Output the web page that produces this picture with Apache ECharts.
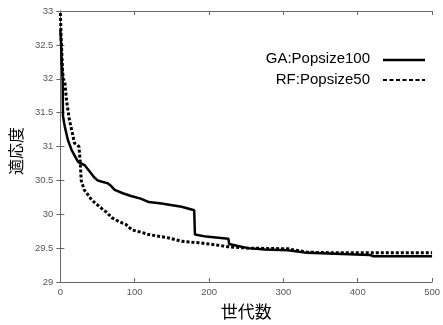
<!DOCTYPE html>
<html><head><meta charset="utf-8">
<script src="https://cdn.jsdelivr.net/npm/echarts@6/dist/echarts.min.js"></script>
<style>html,body{margin:0;padding:0;background:#fff}#c{width:443px;height:325px}</style>
</head><body><div id="c"></div>
<script>
const gaName = 'GA:Popsize100';
const rfName = 'RF:Popsize50';
const gaX = [0,1,2,3,3.5,5,6,10,15,19,24,28,33,41,45,50,56,63,68,73,84,95,108,119,136,163,180,181,196,226,227,239,252,275,306,332,416,421,500];
const gaY = [32.72,32.5,32.2,32.0,31.45,31.35,31.29,31.1,30.95,30.87,30.77,30.75,30.72,30.61,30.55,30.5,30.48,30.46,30.42,30.36,30.31,30.27,30.23,30.18,30.16,30.11,30.06,29.70,29.67,29.64,29.56,29.53,29.50,29.48,29.47,29.43,29.40,29.38,29.38];
const rfX = [0,1,3,4,6,8,12,19,25,26,26.5,28,32,37,42,55,62,69,79,88,96,110,119,146,163,186,208,226,252,306,332,372,500];
const rfY = [32.97,32.6,32.1,32.0,31.95,31.7,31.4,31.05,31.0,30.98,30.8,30.5,30.36,30.29,30.21,30.09,30.03,29.95,29.89,29.85,29.77,29.73,29.70,29.65,29.60,29.58,29.55,29.52,29.50,29.49,29.44,29.43,29.43];
const xTicks = [0,100,200,300,400,500];
const xTitle = '世代数';
const yTitle = '適応度';

const pair = (xs, ys) => xs.map((x, i) => [x, ys[i]]);
const axisCol = '#666';
const lblStyle = {color:'#555', fontSize:9.5, fontFamily:'Liberation Sans, Arial, sans-serif'};
const legFont = 'Liberation Sans, Arial, sans-serif';
const chart = echarts.init(document.getElementById('c'), null, {renderer:'canvas'});
chart.setOption({
  animation:false,
  grid:{left:60, right:7, top:11, bottom:43, show:false},
  graphic:[
    {type:'text', right:73, top:51, style:{text:gaName, font:'15px ' + legFont, fill:'#000', textAlign:'right'}},
    {type:'text', right:73, top:72, style:{text:rfName, font:'15px ' + legFont, fill:'#000', textAlign:'right'}},
    {type:'line', shape:{x1:383, y1:60, x2:425, y2:60}, style:{stroke:'#000', lineWidth:2.5}},
    {type:'line', shape:{x1:383, y1:80, x2:425, y2:80}, style:{stroke:'#000', lineWidth:2, lineDash:[4,2.5]}}
  ],
  xAxis:[{
    type:'value', min:0, max:500, interval:100, position:'bottom',
    name:xTitle, nameLocation:'middle', nameGap:21,
    nameTextStyle:{fontSize:17, color:'#000', fontFamily:'Noto Sans CJK JP'},
    axisLine:{show:true, lineStyle:{color:axisCol, width:1}},
    axisTick:{show:true, inside:true, length:4, lineStyle:{color:axisCol}},
    axisLabel:Object.assign({margin:5, formatter:v=>xTicks.includes(v)?String(v):''}, lblStyle),
    splitLine:{show:false}
  },{
    type:'value', min:0, max:500, interval:100, position:'top',
    axisLine:{show:true, lineStyle:{color:axisCol, width:1}},
    axisTick:{show:true, inside:true, length:4, lineStyle:{color:axisCol}},
    axisLabel:{show:false}, splitLine:{show:false}
  }],
  yAxis:[{
    type:'value', min:29, max:33, interval:0.5, position:'left',
    name:yTitle, nameLocation:'middle', nameGap:26, nameRotate:90,
    nameTextStyle:{fontSize:16, color:'#000', fontFamily:'Noto Sans CJK JP', padding:[0,9,0,0]},
    axisLine:{show:true, lineStyle:{color:axisCol, width:1}},
    axisTick:{show:true, inside:true, length:4, lineStyle:{color:axisCol}},
    axisLabel:Object.assign({margin:7, formatter:v=>String(v)}, lblStyle),
    splitLine:{show:false}
  },{
    type:'value', min:29, max:33, interval:0.5, position:'right',
    axisLine:{show:true, lineStyle:{color:axisCol, width:1}},
    axisTick:{show:true, inside:true, length:4, lineStyle:{color:axisCol}},
    axisLabel:{show:false}, splitLine:{show:false}
  }],
  series:[
    {name:gaName, type:'line', data:pair(gaX, gaY), symbol:'none', showSymbol:false,
     lineStyle:{color:'#000', width:2.5, type:'solid'}, itemStyle:{color:'#000'}, z:3},
    {name:rfName, type:'line', data:pair(rfX, rfY), symbol:'none', showSymbol:false,
     lineStyle:{color:'#000', width:3, type:[3,2]}, itemStyle:{color:'#000'}, z:2}
  ]
});
</script></body></html>
